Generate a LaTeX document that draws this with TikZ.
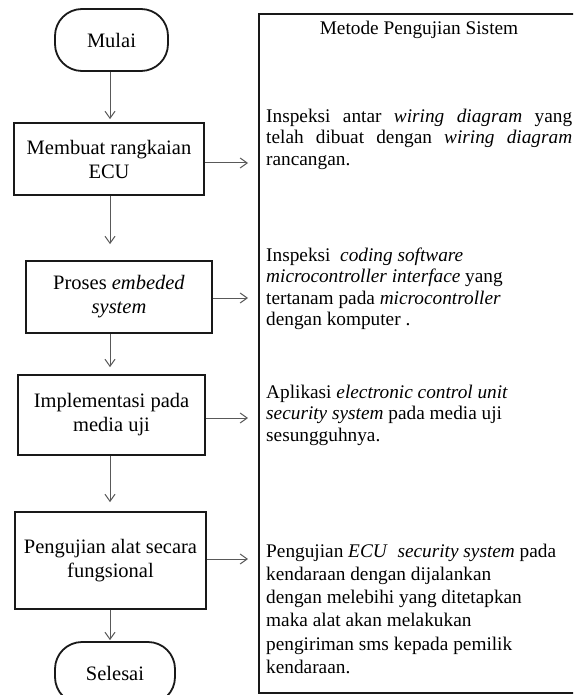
\documentclass[tikz,border=0pt]{standalone}
\usepackage{fontspec}
\setmainfont{Liberation Serif}
\usetikzlibrary{arrows.meta}

\begin{document}
\begin{tikzpicture}[x=1pt,y=-1pt,
  box/.style={draw=black!90,line width=1.8pt,align=center,
    font=\fontsize{20.5}{24}\selectfont},
  term/.style={box,rounded corners=27pt},
  arr/.style={draw=black!65,line width=1pt,-{Straight Barb[length=7pt,width=10pt]}},
  txt/.style={anchor=north west,align=left,inner sep=0pt,
    font=\fontsize{19.3}{21.5}\selectfont}]
  \clip (0,0) rectangle (573,695);
  \fill[white] (0,0) rectangle (573,695);

  \node[term,minimum width=113pt,minimum height=62pt] (mulai) at (111.5,40) {Mulai};
  \node[box,minimum width=190pt,minimum height=72pt] (b1) at (109,159) {Membuat rangkaian\\ECU};
  \node[box,minimum width=186pt,minimum height=72pt] (b2) at (119,297) {Proses \textit{embeded}\\\textit{system}};
  \node[box,minimum width=187pt,minimum height=80pt] (b3) at (111.5,415) {Implementasi pada\\media uji};
  \node[box,minimum width=191pt,minimum height=97pt] (b4) at (110.5,560.5) {Pengujian alat secara\\fungsional};
  \node[term,minimum width=120pt,minimum height=62pt] (selesai) at (115,673) {Selesai};

  \coordinate (axis) at (110,0);
  \draw[arr,shorten >=3pt] (axis |- mulai.south) -- (axis |- b1.north);
  \draw[arr,shorten >=16pt] (axis |- b1.south) -- (axis |- b2.north);
  \draw[arr,shorten >=7pt] (axis |- b2.south) -- (axis |- b3.north);
  \draw[arr,shorten >=9pt] (axis |- b3.south) -- (axis |- b4.north);
  \draw[arr,shorten >=1pt] (axis |- b4.south) -- (axis |- selesai.north);

  \node[draw=black!90,line width=1.8pt,anchor=north west,minimum width=322pt,
    minimum height=679pt] (panel) at (258,13) {};
  \node[anchor=base,font=\fontsize{19.3}{21.5}\selectfont] (judul) at (419,35)
    {Metode Pengujian Sistem};

  \coordinate (p1) at (248,163);
  \coordinate (p2) at (248,298);
  \coordinate (p3) at (248,418);
  \coordinate (p4) at (248,559);
  \draw[arr] (b1.east |- p1) -- (p1);
  \draw[arr] (b2.east |- p2) -- (p2);
  \draw[arr] (b3.east |- p3) -- (p3);
  \draw[arr] (b4.east |- p4) -- (p4);

  \node[txt] (m1) at (266,108.7) {\makebox[306pt][s]{Inspeksi antar \textit{wiring diagram} yang}\\
    \makebox[306pt][s]{telah dibuat dengan \textit{wiring diagram}}\\
    rancangan.};
  \node[txt] (m2) at (266,247.7) {Inspeksi \ \textit{coding software}\\
    \textit{microcontroller interface} yang\\
    tertanam pada \textit{microcontroller}\\
    dengan komputer .};
  \node[txt] (m3) at (266,384.7) {Aplikasi \textit{electronic control unit}\\
    \textit{security system} pada media uji\\
    sesungguhnya.};
  \node[txt,font=\fontsize{19.3}{23.2}\selectfont] (m4) at (266,543.7)
    {Pengujian \textit{ECU} \ \textit{security system} pada\\
    kendaraan dengan dijalankan\\
    dengan melebihi yang ditetapkan\\
    maka alat akan melakukan\\
    pengiriman sms kepada pemilik\\
    kendaraan.};
\end{tikzpicture}
\end{document}
